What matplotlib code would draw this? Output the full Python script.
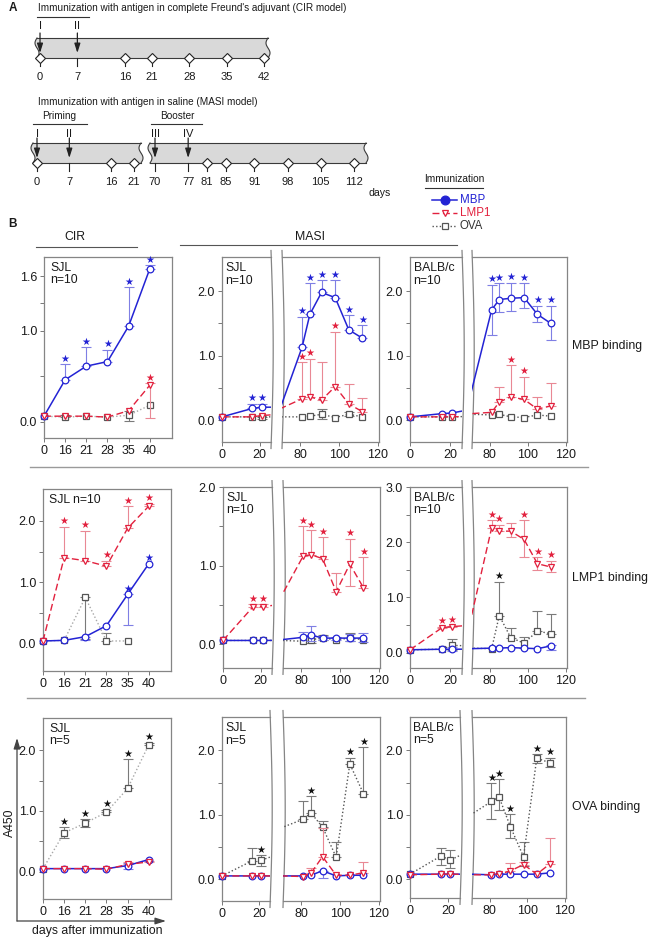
import numpy as np
import matplotlib
matplotlib.use("Agg")
import matplotlib.pyplot as plt

plt.rcParams['font.family'] = ['Liberation Sans', 'DejaVu Sans']
plt.rcParams['font.size'] = 8
plt.rcParams['axes.linewidth'] = 0.9

nan = np.nan
# ---------------- Panel A data (timelines) ----------------
cir_bleed = [0, 16, 21, 28, 35, 42]
cir_immun = [0, 7]
cir_roman = ['I', 'II']
cir_labels = [0, 7, 16, 21, 28, 35, 42]
masi_bleed_p = [0, 16, 21]
masi_immun_p = [0, 7]
masi_roman_p = ['I', 'II']
masi_labels_p = [0, 7, 16, 21]
masi_bleed_b = [81, 85, 91, 98, 105, 112]
masi_immun_b = [70, 77]
masi_roman_b = ['III', 'IV']
masi_labels_b = [70, 77, 81, 85, 91, 98, 105, 112]

# ---------------- Panel B data ----------------
cir_days = [0, 16, 21, 28, 35, 40]
masi_days = [0, 16, 21, 70, 81, 85, 91, 98, 105, 112]
masi_marked = [0, 1, 2, 4, 5, 6, 7, 8, 9]     # day 70 = pre-boost link, no marker

# Row 1: MBP binding
r1_cir_mbp     = [0.06, 0.46, 0.61, 0.66, 1.05, 1.68]
r1_cir_mbp_up  = [0, 0.17, 0.21, 0.13, 0.43, 0.04]
r1_cir_mbp_sig = [0, 1, 1, 1, 1, 1]
r1_cir_lmp     = [0.06, 0.06, 0.06, 0.05, 0.12, 0.40]
r1_cir_lmp_up  = [0, 0, 0, 0, 0, 0.02]
r1_cir_lmp_dn  = [0, 0, 0, 0, 0, 0.36]
r1_cir_lmp_sig = [0, 0, 0, 0, 0, 1]
r1_cir_ova     = [0.06, 0.05, 0.06, 0.05, 0.07, 0.18]
r1_cir_ova_up  = [0, 0.02, 0, 0, 0.05, 0]
r1_cir_ova_dn  = [0, 0, 0, 0, 0.06, 0]

r1_sjl_mbp     = [0.05, 0.18, 0.20, 0.20, 1.13, 1.64, 1.98, 1.90, 1.40, 1.27]
r1_sjl_mbp_up  = [0, 0.07, 0.05, 0, 0.47, 0.48, 0.19, 0.27, 0.23, 0.20]
r1_sjl_mbp_sig = [0, 1, 1, 0, 1, 1, 1, 1, 1, 1]
r1_sjl_lmp     = [0.05, 0.05, 0.07, 0.18, 0.33, 0.36, 0.31, 0.52, 0.25, 0.13]
r1_sjl_lmp_up  = [0, 0, 0, 0, 0.57, 0.59, 0.59, 0.85, 0.31, 0.22]
r1_sjl_lmp_sig = [0, 0, 0, 0, 1, 1, 0, 1, 0, 0]
r1_sjl_ova     = [0.05, 0.05, 0.05, 0.05, 0.05, 0.06, 0.09, 0.04, 0.09, 0.05]
r1_sjl_ova_up  = [0, 0, 0, 0, 0, 0, 0.08, 0, 0.03, 0]
r1_sjl_ova_dn  = [0, 0, 0.03, 0, 0, 0, 0.07, 0, 0.02, 0]

r1_balb_mbp     = [0.05, 0.10, 0.11, 0.40, 1.71, 1.87, 1.89, 1.90, 1.64, 1.50]
r1_balb_mbp_up  = [0, 0, 0, 0, 0.39, 0.25, 0.24, 0.22, 0.13, 0.27]
r1_balb_mbp_dn  = [0, 0, 0, 0, 0.39, 0.20, 0.20, 0.16, 0.12, 0.26]
r1_balb_mbp_sig = [0, 0, 0, 0, 1, 1, 1, 1, 1, 1]
r1_balb_lmp     = [0.05, 0.05, 0.05, 0.10, 0.12, 0.28, 0.36, 0.32, 0.17, 0.22]
r1_balb_lmp_up  = [0, 0, 0, 0, 0, 0.23, 0.49, 0.35, 0.19, 0.36]
r1_balb_lmp_sig = [0, 0, 0, 0, 0, 0, 1, 1, 0, 0]
r1_balb_ova     = [0.05, 0.05, 0.05, 0.09, 0.08, 0.09, 0.05, 0.04, 0.08, 0.06]

# Row 2: LMP1 binding
r2_cir_mbp     = [0.04, 0.05, 0.11, 0.29, 0.80, 1.30]
r2_cir_mbp_dn  = [0, 0, 0.06, 0, 0.50, 0]
r2_cir_mbp_sig = [0, 0, 0, 0, 1, 1]
r2_cir_lmp     = [0.04, 1.40, 1.35, 1.26, 1.88, 2.24]
r2_cir_lmp_up  = [0, 0.50, 0.49, 0.09, 0.36, 0.04]
r2_cir_lmp_sig = [0, 1, 1, 1, 1, 1]
r2_cir_ova     = [0.04, 0.05, 0.75, 0.04, 0.04, nan]
r2_cir_ova_up  = [0, 0, 0, 0.13, 0, 0]
r2_cir_ova_dn  = [0, 0, 0.67, 0, 0, 0]

r2_sjl_mbp     = [0.05, 0.05, 0.05, 0.06, 0.09, 0.12, 0.08, 0.08, 0.08, 0.08]
r2_sjl_mbp_up  = [0, 0, 0, 0, 0.07, 0.11, 0.03, 0.02, 0.05, 0.06]
r2_sjl_mbp_dn  = [0, 0, 0, 0, 0, 0.08, 0.03, 0.02, 0.04, 0.05]
r2_sjl_lmp     = [0.05, 0.48, 0.48, 0.62, 1.12, 1.14, 1.09, 0.67, 1.02, 0.72]
r2_sjl_lmp_up  = [0, 0.03, 0.03, 0, 0.38, 0.31, 0.27, 0.24, 0.32, 0.39]
r2_sjl_lmp_dn  = [0, 0, 0, 0, 0, 0, 0, 0, 0.28, 0]
r2_sjl_lmp_sig = [0, 1, 1, 0, 1, 1, 1, 0, 1, 1]
r2_sjl_ova     = [0.05, 0.05, 0.05, 0.05, 0.04, 0.06, 0.08, 0.06, 0.08, 0.06]
r2_sjl_ova_up  = [0, 0, 0, 0, 0, 0.05, 0.04, 0, 0.06, 0]
r2_sjl_ova_dn  = [0, 0, 0, 0, 0, 0.04, 0.03, 0, 0.04, 0]

r2_balb_mbp     = [0.05, 0.06, 0.06, 0.07, 0.08, 0.08, 0.09, 0.08, 0.07, 0.12]
r2_balb_mbp_up  = [0, 0, 0.04, 0, 0, 0, 0, 0, 0, 0.02]
r2_balb_mbp_dn  = [0, 0, 0.04, 0, 0, 0, 0, 0, 0, 0.07]
r2_balb_lmp     = [0.05, 0.45, 0.47, 0.60, 2.26, 2.20, 2.20, 2.05, 1.61, 1.55]
r2_balb_lmp_up  = [0, 0.02, 0.02, 0, 0.14, 0.12, 0.14, 0.35, 0.12, 0.11]
r2_balb_lmp_dn  = [0, 0, 0, 0, 0, 0, 0.11, 0.32, 0.12, 0.09]
r2_balb_lmp_sig = [0, 1, 1, 0, 1, 1, 0, 1, 1, 1]
r2_balb_ova     = [0.05, 0.06, 0.13, 0.08, 0.07, 0.67, 0.27, 0.17, 0.39, 0.34]
r2_balb_ova_up  = [0, 0, 0.12, 0, 0, 0.61, 0.17, 0.12, 0.36, 0.35]
r2_balb_ova_dn  = [0, 0, 0.08, 0, 0, 0, 0, 0.08, 0, 0]
r2_balb_ova_sig = [0, 0, 0, 0, 0, 1, 0, 0, 0, 0]

# Row 3: OVA binding
r3_cir_mbp     = [0.05, 0.05, 0.05, 0.05, 0.10, 0.20]
r3_cir_mbp_up  = [0, 0, 0, 0, 0.05, 0]
r3_cir_mbp_dn  = [0, 0, 0, 0, 0.06, 0]
r3_cir_lmp     = [0.05, 0.05, 0.05, 0.04, 0.12, 0.16]
r3_cir_lmp_up  = [0, 0, 0, 0, 0.04, 0.02]
r3_cir_ova     = [0.05, 0.64, 0.80, 0.98, 1.37, 2.09]
r3_cir_ova_up  = [0, 0.09, 0.06, 0.04, 0.48, 0.03]
r3_cir_ova_dn  = [0, 0.08, 0.06, 0, 0, 0]
r3_cir_ova_sig = [0, 1, 1, 1, 1, 1]

r3_sjl_mbp     = [0.05, 0.05, 0.05, 0.05, 0.05, 0.06, 0.13, 0.05, 0.06, 0.06]
r3_sjl_mbp_dn  = [0, 0, 0, 0, 0, 0, 0.12, 0, 0, 0]
r3_sjl_lmp     = [0.05, 0.05, 0.05, 0.05, 0.04, 0.09, 0.35, 0.06, 0.06, 0.10]
r3_sjl_lmp_up  = [0, 0, 0, 0, 0, 0.08, 0.44, 0, 0, 0.17]
r3_sjl_ova     = [0.05, 0.28, 0.29, 0.80, 0.93, 1.03, 0.81, 0.34, 1.79, 1.33]
r3_sjl_ova_up  = [0, 0.21, 0.08, 0, 0.29, 0.26, 0.09, 0.24, 0.10, 0.72]
r3_sjl_ova_dn  = [0, 0, 0.08, 0, 0, 0, 0, 0, 0, 0]
r3_sjl_ova_sig = [0, 0, 1, 0, 0, 1, 0, 0, 1, 1]

r3_balb_mbp     = [0.08, 0.08, 0.08, 0.08, 0.07, 0.08, 0.08, 0.08, 0.08, 0.10]
r3_balb_lmp     = [0.07, 0.08, 0.08, 0.07, 0.07, 0.08, 0.13, 0.23, 0.08, 0.24]
r3_balb_lmp_up  = [0, 0, 0, 0, 0, 0, 0.13, 0.04, 0, 0.40]
r3_balb_ova     = [0.08, 0.36, 0.30, 1.00, 1.21, 1.28, 0.82, 0.35, 1.88, 1.81]
r3_balb_ova_up  = [0, 0.13, 0.15, 0, 0.28, 0.27, 0.19, 0.23, 0.06, 0.08]
r3_balb_ova_dn  = [0, 0.14, 0.13, 0, 0.27, 0.21, 0.18, 0.15, 0.07, 0.07]
r3_balb_ova_sig = [0, 0, 0, 0, 1, 1, 1, 0, 1, 1]

# ---------------- styling ----------------
W, H, DPI = 648, 939, 100
SPINE = '#858585'
TXT = '#1a1a1a'
BLUE, RED, GRAY = '#2323d4', '#e2213e', '#555555'
FS_TICK = 9
FS_B = 8.8
FS_A = 7.2
FS_STAR = 7.2
STY = {
    'MBP':  dict(color=BLUE, ecolor='#7f7fe4', ls='-', lw=1.1, marker='o', ms=4.8, star=BLUE, z=5),
    'LMP1': dict(color=RED, ecolor='#e98894', ls=(0, (5, 2.5)), lw=1.0, marker='v', ms=5.0, star=RED, z=5.3),
    'OVA':  dict(color=GRAY, ecolor='#7a7a7a', ls=(0, (1, 1.6)), lw=1.0, marker='s', ms=4.0, star='#111111', z=3),
}

fig = plt.figure(figsize=(W / DPI, H / DPI), dpi=DPI)


def px_axes(x0, y0, x1, y1):
    return fig.add_axes([x0 / W, 1 - y1 / H, (x1 - x0) / W, (y1 - y0) / H])


def arr(a, n):
    return np.zeros(n) if a is None else np.array(a, float)


def draw_series(ax, x, vals, up, dn, sig, key, marked, xlim, lc=None):
    st = STY[key]
    x = np.asarray(x, float)
    y = np.array(vals, float)
    n = len(y)
    up, dn, sig = arr(up, n), arr(dn, n), arr(sig, n)
    m = ((up > 0) | (dn > 0)) & ~np.isnan(y)
    if m.any():
        ax.errorbar(x[m], y[m], yerr=[dn[m], up[m]], fmt='none', ecolor=st['ecolor'],
                    elinewidth=0.8, capsize=3.6, capthick=0.8, zorder=st['z'] - 0.5)
    ax.plot(x, y, color=lc or st['color'], ls=st['ls'], lw=st['lw'], zorder=st['z'])
    mk = np.array(marked)
    xm, ym = x[mk], y[mk]
    inside = (xm >= xlim[0] - 1e-9) & (xm <= xlim[1])
    ax.plot(xm[inside], ym[inside], ls='none', marker=st['marker'], ms=st['ms'], mfc='white',
            mec=st['color'], mew=0.9, zorder=st['z'] + 0.2, clip_on=False)
    for xi, yi, u, s in zip(x, y, up, sig):
        if s and xlim[0] <= xi <= xlim[1]:
            ax.annotate('\u2605', (xi, yi + u), xytext=(0, 0.4), textcoords='offset points',
                        ha='center', va='bottom', color=st['star'], fontsize=FS_STAR,
                        family=['DejaVu Sans'], zorder=7)


def style(ax, xlim, ylim, xt, xtl, yt=None, ym=None, spines=('left', 'right', 'top', 'bottom')):
    ax.set_xlim(xlim)
    ax.set_ylim(ylim)
    for s in ('left', 'right', 'top', 'bottom'):
        ax.spines[s].set_visible(s in spines)
        ax.spines[s].set_color(SPINE)
        ax.spines[s].set_linewidth(0.9)
    ax.set_xticks(xt)
    ax.set_xticklabels(xtl)
    if yt is not None:
        ax.set_yticks(yt)
        ax.set_yticklabels(['%.1f' % v for v in yt])
        ax.set_yticks(ym, minor=True)
    else:
        ax.set_yticks([])
    ax.tick_params(which='both', direction='out', length=3, width=0.7, color='#777777',
                   labelcolor=TXT, labelsize=FS_TICK, pad=2)
    ax.tick_params(axis='x', which='minor', length=0)
    ax.patch.set_alpha(0)


def brk(ax, side, wpx):
    t = np.linspace(-0.035, 1.035, 40)
    x = (1.0 if side == 'r' else 0.0) + 2.2 * np.sin(np.pi * (t + 0.035) / 1.07) / wpx
    ax.plot(x, t, transform=ax.transAxes, color=SPINE, lw=0.9, clip_on=False)


def cir_panel(box, ylim, yt, ym, series, label):
    ax = px_axes(*box)
    xlim = (0, 6.05)
    style(ax, xlim, ylim, range(len(cir_days)), [str(d) for d in cir_days], yt, ym)
    idx = np.arange(len(cir_days))
    for key, v, u, d, s in series:
        draw_series(ax, idx, v, u, d, s, key, list(idx), xlim,
                    lc='#a8a8a8' if key == 'OVA' else None)
    ax.text(0.05, 0.975, label, transform=ax.transAxes, va='top', ha='left', fontsize=FS_B,
            color=TXT, linespacing=1.1)
    return ax


def masi_panel(box1, box2, ylim, yt, ym, series, label):
    a1 = px_axes(*box1)
    a2 = px_axes(*box2)
    xl1, xl2 = (0, 26), (70.7, 120.5)
    style(a1, xl1, ylim, [0, 20], ['0', '20'], yt, ym, spines=('left', 'top', 'bottom'))
    style(a2, xl2, ylim, [80, 100, 120], ['80', '100', '120'], None, None,
          spines=('right', 'top', 'bottom'))
    brk(a1, 'r', box1[2] - box1[0])
    brk(a2, 'l', box2[2] - box2[0])
    for ax, xl in ((a1, xl1), (a2, xl2)):
        for key, v, u, d, s in series:
            draw_series(ax, masi_days, v, u, d, s, key, masi_marked, xl)
    a1.text(0.07, 0.975, label, transform=a1.transAxes, va='top', ha='left', fontsize=FS_B,
            color=TXT, linespacing=1.1)
    return a1, a2


# ---------------- Panel B ----------------
Y2 = [0, 1.0, 2.0]
M2 = [0.5, 1.5]
# Row 1
cir_panel((44, 257, 172, 438), (-0.18, 1.81), [0, 1.0, 1.6], [0.5, 1.3],
          [('OVA', r1_cir_ova, r1_cir_ova_up, r1_cir_ova_dn, None),
           ('LMP1', r1_cir_lmp, r1_cir_lmp_up, r1_cir_lmp_dn, r1_cir_lmp_sig),
           ('MBP', r1_cir_mbp, r1_cir_mbp_up, None, r1_cir_mbp_sig)], 'SJL\nn=10')
masi_panel((222, 257, 271, 442), (282, 257, 379, 442), (-0.34, 2.53), Y2, M2,
           [('OVA', r1_sjl_ova, r1_sjl_ova_up, r1_sjl_ova_dn, None),
            ('LMP1', r1_sjl_lmp, r1_sjl_lmp_up, None, r1_sjl_lmp_sig),
            ('MBP', r1_sjl_mbp, r1_sjl_mbp_up, None, r1_sjl_mbp_sig)], 'SJL\nn=10')
masi_panel((410, 257, 462, 442), (472, 257, 567, 442), (-0.34, 2.53), Y2, M2,
           [('OVA', r1_balb_ova, None, None, None),
            ('LMP1', r1_balb_lmp, r1_balb_lmp_up, None, r1_balb_lmp_sig),
            ('MBP', r1_balb_mbp, r1_balb_mbp_up, r1_balb_mbp_dn, r1_balb_mbp_sig)], 'BALB/c\nn=10')
# Row 2
cir_panel((43, 489, 171, 671), (-0.45, 2.52), Y2, M2,
          [('OVA', r2_cir_ova, r2_cir_ova_up, r2_cir_ova_dn, None),
           ('MBP', r2_cir_mbp, None, r2_cir_mbp_dn, r2_cir_mbp_sig),
           ('LMP1', r2_cir_lmp, r2_cir_lmp_up, None, r2_cir_lmp_sig)], 'SJL n=10')
masi_panel((223, 487, 272, 668), (283, 487, 380, 668), (-0.30, 2.0), Y2, M2,
           [('OVA', r2_sjl_ova, r2_sjl_ova_up, r2_sjl_ova_dn, None),
            ('LMP1', r2_sjl_lmp, r2_sjl_lmp_up, r2_sjl_lmp_dn, r2_sjl_lmp_sig),
            ('MBP', r2_sjl_mbp, r2_sjl_mbp_up, r2_sjl_mbp_dn, None)], 'SJL\nn=10')
masi_panel((410, 487, 462, 668), (472, 487, 567, 668), (-0.28, 3.0), [0, 1.0, 2.0, 3.0],
           [0.5, 1.5, 2.5],
           [('OVA', r2_balb_ova, r2_balb_ova_up, r2_balb_ova_dn, r2_balb_ova_sig),
            ('LMP1', r2_balb_lmp, r2_balb_lmp_up, r2_balb_lmp_dn, r2_balb_lmp_sig),
            ('MBP', r2_balb_mbp, r2_balb_mbp_up, r2_balb_mbp_dn, None)], 'BALB/c\nn=10')
# Row 3
cir_panel((43, 718, 171, 899), (-0.45, 2.53), Y2, M2,
          [('OVA', r3_cir_ova, r3_cir_ova_up, r3_cir_ova_dn, r3_cir_ova_sig),
           ('MBP', r3_cir_mbp, r3_cir_mbp_up, r3_cir_mbp_dn, None),
           ('LMP1', r3_cir_lmp, r3_cir_lmp_up, None, None)], 'SJL\nn=5')
masi_panel((222, 717, 270, 901), (283, 717, 380, 901), (-0.34, 2.52), Y2, M2,
           [('OVA', r3_sjl_ova, r3_sjl_ova_up, r3_sjl_ova_dn, r3_sjl_ova_sig),
            ('MBP', r3_sjl_mbp, None, r3_sjl_mbp_dn, None),
            ('LMP1', r3_sjl_lmp, r3_sjl_lmp_up, None, None)], 'SJL\nn=5')
masi_panel((410, 717, 460, 898), (472, 717, 566, 898), (-0.29, 2.52), Y2, M2,
           [('OVA', r3_balb_ova, r3_balb_ova_up, r3_balb_ova_dn, r3_balb_ova_sig),
            ('MBP', r3_balb_mbp, None, None, None),
            ('LMP1', r3_balb_lmp, r3_balb_lmp_up, None, None)], 'BALB/c\nn=5')


# ---------------- Panel A timelines ----------------
def timeline(box, xlim, bleed, immun, romans, labels, roman_dy, arrow_dy):
    ax = px_axes(*box)
    ax.set_xlim(xlim)
    ax.set_ylim(0, 1)
    ax.axis('off')
    hb = box[3] - box[1]
    dpp = (xlim[1] - xlim[0]) / (box[2] - box[0])
    t = np.linspace(0, 1, 40)
    amp = 2.0 * dpp
    lx = xlim[0] + amp + amp * np.sin(2 * np.pi * t)
    rx = xlim[1] - amp + amp * np.sin(2 * np.pi * t)
    ax.fill(np.r_[lx, rx[::-1]], np.r_[t, t[::-1]], color='#d9d9d9', lw=0, clip_on=False)
    ax.plot([lx[-1], rx[-1]], [1, 1], color='#3a3a3a', lw=0.8, clip_on=False)
    ax.plot([lx[0], rx[0]], [0, 0], color='#3a3a3a', lw=0.8, clip_on=False)
    ax.plot(lx, t, color='#3a3a3a', lw=0.8, clip_on=False)
    ax.plot(rx, t, color='#3a3a3a', lw=0.8, clip_on=False)
    for d in labels:
        ax.plot([d, d], [0, -8 / hb], color='#222222', lw=0.8, clip_on=False)
        ax.text(d, -19 / hb, str(d), ha='center', va='center', fontsize=8, color=TXT)
    ax.plot(bleed, np.zeros(len(bleed)), 'D', ms=5.2, mfc='white', mec='#222222', mew=0.8,
            clip_on=False, zorder=5)
    for d, r in zip(immun, romans):
        ax.annotate('', xy=(d, 5 / hb), xytext=(d, 1 + arrow_dy / hb),
                    arrowprops=dict(arrowstyle='-|>,head_width=0.22,head_length=0.7',
                                    color='#222222', lw=0.9, shrinkA=0, shrinkB=0),
                    annotation_clip=False)
        ax.text(d, 1 + roman_dy / hb, r, ha='center', va='center', fontsize=8, color=TXT)


timeline((35, 38, 270, 58), (-0.94, 43.1), cir_bleed, cir_immun, cir_roman, cir_labels, 12, 5)
timeline((31, 143, 143, 163), (-1.3, 22.95), masi_bleed_p, masi_immun_p, masi_roman_p,
         masi_labels_p, 9, 5)
timeline((148, 143, 368, 163), (68.52, 114.96), masi_bleed_b, masi_immun_b, masi_roman_b,
         masi_labels_b, 9, 5)

# ---------------- overlay (texts, rules, legend) ----------------
ov = fig.add_axes([0, 0, 1, 1])
ov.set_xlim(0, W)
ov.set_ylim(H, 0)
ov.axis('off')
ov.patch.set_alpha(0)


def T(x, y, s, **kw):
    kw.setdefault('va', 'center')
    kw.setdefault('color', TXT)
    ov.text(x, y, s, **kw)


def L(xs, ys, **kw):
    kw.setdefault('color', '#333333')
    kw.setdefault('lw', 0.8)
    ov.plot(xs, ys, **kw)


T(9, 8, 'A', weight='bold', fontsize=8.5)
T(38, 8, "Immunization with antigen in complete Freund's adjuvant (CIR model)", fontsize=FS_A)
L([37, 89], [17, 17])
T(38, 102, 'Immunization with antigen in saline (MASI model)', fontsize=FS_A)
T(59, 116, 'Priming', ha='center', fontsize=FS_A)
L([33, 87], [124, 124])
T(177, 116, 'Booster', ha='center', fontsize=FS_A)
L([151, 202], [124, 124])
T(380, 193, 'days', ha='center', fontsize=7.6)

# legend
T(454, 179, 'Immunization', ha='center', fontsize=7.3)
L([425, 483], [188, 188])
for yy, key in [(200, 'MBP'), (213, 'LMP1'), (226, 'OVA')]:
    st = STY[key]
    L([432, 457], [yy, yy], color=st['color'], ls=st['ls'], lw=st['lw'])
    ov.plot([444.5], [yy], marker=st['marker'], ms=st['ms'] + (1.5 if key == 'MBP' else 0),
            mfc=st['color'] if key == 'MBP' else 'white', mec=st['color'], mew=0.9)
    T(460, yy, key, color=st['color'] if key != 'OVA' else '#333333', fontsize=8.3)

T(8, 224, 'B', weight='bold', fontsize=8.5)
T(75, 237, 'CIR', ha='center', fontsize=FS_B)
L([36, 137], [247, 247], color='#555555')
T(310, 237, 'MASI', ha='center', fontsize=FS_B)
L([180, 457], [245, 245], color='#555555')
L([30, 588], [467, 467], color='#9a9a9a', lw=1.0)
L([27, 585], [698, 698], color='#9a9a9a', lw=1.0)
T(572, 346, 'MBP binding', fontsize=8.9)
T(572, 578, 'LMP1 binding', fontsize=8.9)
T(572, 807, 'OVA binding', fontsize=8.9)
T(10, 823, 'A450', rotation=90, ha='center', fontsize=FS_B)
ov.annotate('', xy=(17, 738), xytext=(17, 921),
            arrowprops=dict(arrowstyle='-|>,head_width=0.25,head_length=0.8', color='#444444',
                            lw=0.9, shrinkA=0, shrinkB=0))
ov.annotate('', xy=(166, 921), xytext=(17, 921),
            arrowprops=dict(arrowstyle='-|>,head_width=0.25,head_length=0.8', color='#444444',
                            lw=0.9, shrinkA=0, shrinkB=0))
T(97, 931, 'days after immunization', ha='center', fontsize=FS_B)

fig.savefig('out.png', dpi=DPI)
